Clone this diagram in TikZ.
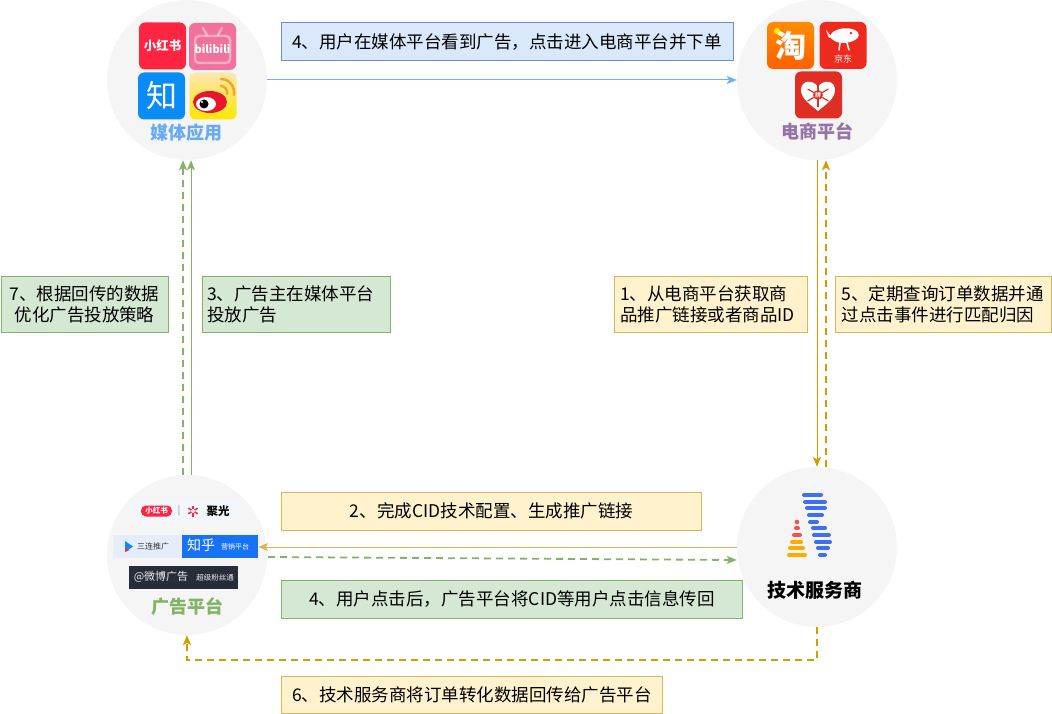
\documentclass[tikz,border=0pt]{standalone}
\usepackage{fontspec}
\setmainfont{Noto Sans CJK SC}
\usetikzlibrary{arrows.meta}

\definecolor{circlegray}{HTML}{F5F5F5}
\definecolor{bluefill}{HTML}{DAE8FC}
\definecolor{blueedge}{HTML}{6C8EBF}
\definecolor{greenfill}{HTML}{D5E8D4}
\definecolor{greenedge}{HTML}{82B366}
\definecolor{yellowfill}{HTML}{FFF2CC}
\definecolor{yellowedge}{HTML}{D6B656}
\definecolor{orangeedge}{HTML}{D79B00}
\definecolor{blueline}{HTML}{66B2FF}
\definecolor{mediablue}{HTML}{67ABF5}
\definecolor{shoppurple}{HTML}{9673A6}
\definecolor{xhsred}{HTML}{FF2442}
\definecolor{bilipink}{HTML}{F0719B}
\definecolor{zhiblue}{HTML}{0A8CF5}
\definecolor{weibored}{HTML}{E6162D}
\definecolor{weiboorange}{HTML}{F7A51C}
\definecolor{taoorange}{HTML}{FF6000}
\definecolor{jdred}{HTML}{EE2A1E}
\definecolor{pddred}{HTML}{E02E24}
\definecolor{juguangbg}{HTML}{F1F7FC}
\definecolor{sanlianbg}{HTML}{E5EEF8}
\definecolor{zhihuad}{HTML}{1772F6}
\definecolor{weiboad}{HTML}{272D38}
\definecolor{techblue}{HTML}{3B6FF5}
\definecolor{techred}{HTML}{F5504A}
\definecolor{techyellow}{HTML}{FFAA00}

\begin{document}
\begin{tikzpicture}[x=1pt, y=-1pt,
	platform/.style = {circle, fill=circlegray, minimum size=160pt, inner sep=0pt},
	box/.style = {draw, line width=1pt, inner sep=0pt, text=black, font=\fontsize{17.5}{21}\selectfont},
	bluebox/.style = {box, fill=bluefill, draw=blueedge},
	greenbox/.style = {box, fill=greenfill, draw=greenedge},
	yellowbox/.style = {box, fill=yellowfill, draw=yellowedge},
	title/.style = {font=\fontsize{18}{18}\selectfont\bfseries},
	logo/.style = {rounded corners=6pt, minimum size=47pt, inner sep=0pt, text=white},
	tip/.style = {-{Stealth[length=10pt, width=8pt, inset=2.5pt]}},
	solidline/.style = {line width=1pt, tip},
	dashline/.style = {line width=1.8pt, dash pattern=on 7pt off 5pt, tip}
]
	\useasboundingbox (0,0) rectangle (1052,714);

	% the four platforms
	\node [platform] (media) at (187,80) {};
	\node [platform] (shop) at (817,80) {};
	\node [platform] (ad) at (187,555) {};
	\node [platform] (tech) at (817,547) {};

	% media apps
	\node [logo, fill=xhsred, font=\fontsize{12.5}{12.5}\selectfont\bfseries] (xhs) at (162.5,46) {小红书};
	\node [logo, fill=bilipink] (bili) at (212.5,46.5) {};
	\draw [white, opacity=0.4, line width=2.5pt, rounded corners=4pt] (195,36) rectangle (230,63);
	\draw [white, opacity=0.4, line width=2.5pt, line cap=round] (203,28) -- (207,35) (222,28) -- (218,35);
	\node [text=white, font=\fontsize{11}{11}\selectfont\bfseries] (bilitext) at (212.5,49) {bilibili};
	\node [logo, fill=zhiblue, font=\fontsize{31}{31}\selectfont] (zhi) at (161.5,96) {知};
	\node [logo, top color=yellow!35!orange!30, bottom color=yellow!80!orange, rounded corners=6pt] (weibo) at (213,96) {};
	\fill [weibored] (210,102) ellipse [x radius=17, y radius=11];
	\fill [white] (206,104) ellipse [x radius=10, y radius=7];
	\fill [black] (204,104) circle [radius=4.5];
	\fill [white] (202,102) circle [radius=1.2];
	\draw [weiboorange, line width=2.5pt, line cap=round] (221,79) .. controls (229,79) and (235,86) .. (234,95);
	\draw [weiboorange, line width=2.5pt, line cap=round] (221,86) .. controls (225,86) and (228,90) .. (227,94);
	\node [title, text=mediablue] (mediatitle) at (186,133) {媒体应用};

	% shops
	\node [logo, top color=orange!90!yellow, bottom color=taoorange, font=\fontsize{31}{31}\selectfont\bfseries] (tao) at (790.5,45.5) {淘};
	\fill [yellow] (777,31) circle [radius=3];
	\node [logo, fill=jdred] (jd) at (843,45.5) {};
	\fill [white] (830,37) .. controls (831,29) and (846,26) .. (855,30) .. controls (860,32) and (860,38) .. (855,40)
		.. controls (848,44) and (836,45) .. (830,37) -- cycle;
	\fill [white] (831,36) -- (826,30) -- (829,38) -- cycle;
	\fill [jdred] (851,33) circle [radius=1.3];
	\draw [white, line width=1.5pt, line cap=round] (840,43) -- (839,50) (847,43) -- (849,50);
	\node [text=white, font=\fontsize{9}{9}\selectfont] (jdtext) at (843,59) {京东};
	\node [logo, fill=pddred] (pdd) at (818.5,95) {};
	\fill [white] (818,87) .. controls (813,79) and (801,80) .. (801,90) .. controls (801,99) and (811,105) .. (818,111)
		.. controls (825,105) and (835,99) .. (835,90) .. controls (835,80) and (823,79) .. (818,87) -- cycle;
	\coordinate (pddcenter) at (818,95);
	\foreach \a in {30,90,...,330}
		\draw [pddred, line width=1.2pt] (pddcenter) -- ([shift={(\a:12)}]pddcenter);
	\node [circle, fill=pddred, inner sep=0.5pt, text=white, font=\fontsize{6}{6}\selectfont\bfseries] (pddtext) at (pddcenter) {拼};
	\node [title, text=shoppurple] (shoptitle) at (817,131) {电商平台};

	% ad platforms
	\node [fill=juguangbg, minimum width=103pt, minimum height=21pt, inner sep=0pt] (juguang) at (188.5,510) {};
	\node [fill=xhsred, rounded corners=5pt, minimum width=31pt, minimum height=11pt, inner sep=0pt,
		text=white, font=\fontsize{7.5}{7.5}\selectfont\bfseries] (xhsad) at (156.5,511) {小红书};
	\node [text=gray, font=\fontsize{9}{9}\selectfont] (adbar) at (179,511) {|};
	\coordinate (jgstar) at (193,511);
	\foreach \a in {30,90,...,330}
		\draw [xhsred, line width=1.5pt] ([shift={(\a:1.8)}]jgstar) -- ([shift={(\a:5.5)}]jgstar);
	\node [font=\fontsize{11.5}{11.5}\selectfont\bfseries] (jgtext) at (218,511) {聚光};
	\node [fill=sanlianbg, minimum width=69pt, minimum height=23pt, inner sep=0pt] (sanlian) at (147.5,546.5) {};
	\fill [zhiblue] (125,541) -- (133,546.5) -- (125,552) -- cycle;
	\fill [xhsred] (125,548) -- (129.5,550) -- (125,552) -- cycle;
	\node [text=black!80, font=\fontsize{8}{8}\selectfont] (sltext) at (153,546.5) {三连推广};
	\node [fill=zhihuad, minimum width=76pt, minimum height=23pt, inner sep=0pt] (zhihu) at (220,546.5) {};
	\node [text=white, font=\fontsize{14}{14}\selectfont] (zhtext) at (201,545.5) {知乎};
	\node [text=white, font=\fontsize{7}{7}\selectfont] (zhsub) at (235,547) {营销平台};
	\node [fill=weiboad, minimum width=109pt, minimum height=23pt, inner sep=0pt] (weiboads) at (183.5,577.5) {};
	\node [text=white!85!gray, font=\fontsize{11}{11}\selectfont] (wbtext) at (161,577) {@微博广告};
	\node [text=white!85!gray, font=\fontsize{7.5}{7.5}\selectfont] (wbsub) at (215,578) {超级粉丝通};
	\node [title, text=greenedge] (adtitle) at (187,607) {广告平台};

	% tech provider
	\foreach \y/\a/\b in {495/804/821, 502/805/825, 508/807/825, 515/809/822, 522/810/817,
		528/813/825, 535/814/829, 542/816/830, 548/818/828, 555/820/825}
		\draw [techblue, line width=4pt, line cap=round] (\a,\y) -- (\b,\y);
	\fill [techred] (797,522) circle [radius=2.3];
	\foreach \y/\a/\b in {528/796/798, 535/794/800}
		\draw [techred, line width=4pt, line cap=round] (\a,\y) -- (\b,\y);
	\foreach \y/\a/\b in {542/792/801, 548/790/803, 555/789/805}
		\draw [techyellow, line width=4pt, line cap=round] (\a,\y) -- (\b,\y);
	\node [title, font=\fontsize{19}{19}\selectfont\bfseries] (techtitle) at (815,590) {技术服务商};

	% steps
	\node [bluebox, minimum width=452pt, minimum height=38pt] (clickbuy) at (507,42) {4、用户在媒体平台看到广告，点击进入电商平台并下单};
	\node [greenbox, minimum width=167pt, minimum height=56pt, align=center] (optimize) at (84.5,304.5) {7、根据回传的数据\\优化广告投放策略};
	\node [greenbox, inner xsep=5pt, text width=178pt, minimum height=56pt, align=left] (publish) at (296,304.5) {3、广告主在媒体平台\\投放广告};
	\node [yellowbox, inner xsep=6pt, text width=181pt, minimum height=56pt, align=left] (getlink) at (710.5,304.5) {1、从电商平台获取商\\品推广链接或者商品ID};
	\node [yellowbox, inner xsep=6pt, text width=204pt, minimum height=56pt, align=left] (match) at (943.5,304.5) {5、定期查询订单数据并通\\过点击事件进行匹配归因};
	\node [yellowbox, minimum width=420pt, minimum height=38pt] (config) at (491.5,511) {2、完成CID技术配置、生成推广链接};
	\node [greenbox, minimum width=461pt, minimum height=38pt] (callback) at (512,599) {4、用户点击后，广告平台将CID等用户点击信息传回};
	\node [yellowbox, minimum width=381pt, minimum height=37pt] (convert) at (472,694.5) {6、技术服务商将订单转化数据回传给广告平台};

	% connectors
	\draw [solidline, blueline] (media.east) -- (shop.west);
	\draw [solidline, greenedge] ([xshift=4pt]ad.north) -- ([xshift=4pt]media.south);
	\draw [dashline, greenedge] ([xshift=-4pt]ad.north) -- ([xshift=-4pt]media.south);
	\draw [solidline, orangeedge] (shop.south) -- (tech.north);
	\draw [dashline, orangeedge] ([xshift=9pt]tech.north) -- ([xshift=9pt]shop.south);
	\draw [solidline, yellowedge] (tech.west) -- (tech.west -| zhihu.east);
	\coordinate (adout) at (268,557);
	\draw [dashline, greenedge] (adout) -- ([yshift=-13pt]tech.west);
	\draw [dashline, orangeedge] (tech.south) -- ++(0,33) -| (ad.south);
\end{tikzpicture}
\end{document}
